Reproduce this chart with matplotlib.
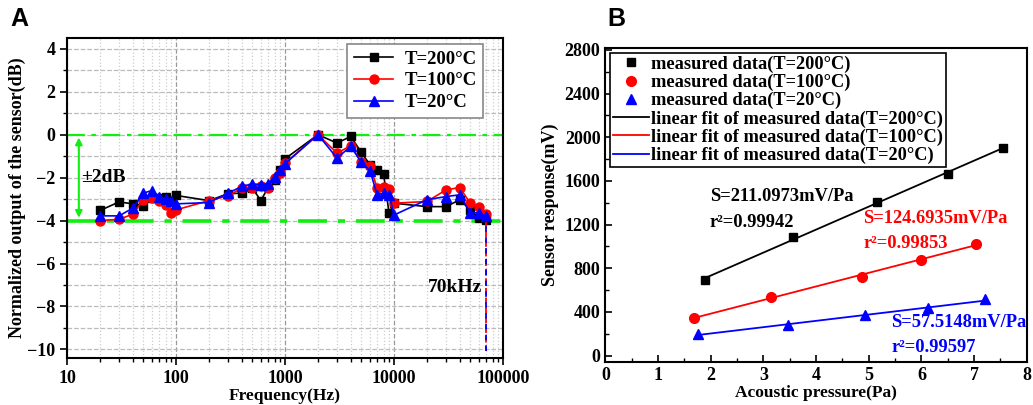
import numpy as np
import matplotlib.pyplot as plt
from matplotlib.ticker import MultipleLocator, NullFormatter

plt.rcParams['font.family'] = ['Liberation Serif', 'DejaVu Serif']
plt.rcParams['font.weight'] = 'bold'
plt.rcParams['axes.labelweight'] = 'bold'

# ---- panel A: frequency response ----
freq = [20, 30, 40, 50, 60, 70, 80, 90, 100, 200, 300, 400, 500, 600, 700, 800, 900,
        1000, 2000, 3000, 4000, 5000, 6000, 7000, 8000, 9000, 10000, 20000, 30000,
        40000, 50000, 60000, 70000]
out_200 = [-3.53, -3.13, -3.22, -3.3, -2.96, -2.96, -2.88, -3.07, -2.83, -3.07, -2.75,
           -2.72, -2.49, -3.07, -2.44, -2.1, -1.63, -1.12, 0.0, -0.39, -0.08, -0.82,
           -1.4, -1.63, -1.82, -3.66, -3.19, -3.35, -3.35, -3.03, -3.5, -3.9, -3.95]
out_100 = [-4.0, -3.94, -3.7, -3.03, -2.96, -3.11, -3.27, -3.66, -3.5, -3.07, -2.85,
           -2.49, -2.49, -2.41, -2.49, -2.02, -1.79, -1.32, 0.0, -0.86, -0.51, -1.25,
           -1.45, -2.49, -2.44, -2.54, -3.19, -3.11, -2.57, -2.46, -3.19, -3.35, -3.68]
out_20 = [-3.78, -3.78, -3.42, -2.72, -2.6, -2.88, -3.0, -3.07, -3.22, -3.16, -2.72,
          -2.41, -2.29, -2.33, -2.29, -1.95, -1.63, -1.35, 0.0, -1.09, -0.54, -1.29,
          -1.67, -2.8, -2.72, -2.8, -3.74, -3.03, -2.88, -2.8, -3.64, -3.64, -3.8]
band_top, band_bottom = 0, -4
cutoff_freq = 70000

# ---- panel B: sensitivity ----
p_200 = [1.90, 3.57, 5.15, 6.50, 7.55]
v_200 = [694, 1086, 1404, 1664, 1902]
p_100 = [1.675, 3.14, 4.88, 5.99, 7.03]
v_100 = [346, 535, 719, 878, 1024]
p_20 = [1.76, 3.46, 4.93, 6.13, 7.20]
v_20 = [199, 275, 367, 434, 514]

fig = plt.figure(figsize=(10.33, 4.05), dpi=100)
axA = fig.add_axes([0.065, 0.116, 0.422, 0.790])
axB = fig.add_axes([0.586, 0.106, 0.408, 0.775])

lw = 1.2
axA.plot(freq, out_200, 'k-', marker='s', ms=6, lw=lw, label='T=200°C', zorder=3)
axA.plot(freq, out_100, '-', color='red', marker='o', ms=6.5, lw=lw, label='T=100°C', zorder=4)
axA.plot(freq, out_20, '-', color='blue', marker='^', ms=6.5, lw=lw, label='T=20°C', zorder=5)

green = '#11ee11'
axA.axhline(band_top, color=green, ls=(0, (8, 3, 2, 3)), lw=1.6, zorder=2)
axA.axhline(band_bottom, color=green, ls=(0, (8, 3, 2, 3)), lw=2.6, zorder=2)
axA.annotate('', xy=(12.8, band_bottom), xytext=(12.8, band_top),
             arrowprops=dict(arrowstyle='<|-|>', color=green, lw=1.5, mutation_scale=10))
axA.text(13.3, -2.0, '±2dB', fontsize=14, fontweight='bold', va='center', ha='left')
axA.plot([cutoff_freq, cutoff_freq], [band_bottom, -10.05], color='red', ls='--', lw=1.3, zorder=3)
axA.plot([cutoff_freq, cutoff_freq], [band_bottom, -10.05], color='blue', ls=(3, (3, 3)), lw=1.3, zorder=3)
axA.text(64000, -7.1, '70kHz', fontsize=14, fontweight='bold', va='center', ha='right')

axA.set_xscale('log')
axA.set_xlim(10, 100000)
axA.set_ylim(-10.4, 4.5)
axA.set_xticks([10, 100, 1000, 10000, 100000])
axA.set_xticklabels(['10', '100', '1000', '10000', '100000'])
axA.xaxis.set_minor_formatter(NullFormatter())
axA.set_yticks(np.arange(-10, 5, 2))
axA.yaxis.set_minor_locator(MultipleLocator(1))
axA.grid(True, which='major', axis='x', color='#999999', ls='--', lw=0.9)
axA.grid(True, which='minor', axis='x', color='#cccccc', ls=':', lw=0.9)
axA.grid(True, which='both', axis='y', color='#bbbbbb', ls='--', lw=0.9)
axA.set_axisbelow(True)
axA.tick_params(which='both', direction='out', labelsize=13)
axA.tick_params(which='major', length=5, width=1.2)
axA.tick_params(which='minor', length=3, width=1)
axA.set_xlabel('Frequency(Hz)', fontsize=12.5, labelpad=1)
axA.set_ylabel('Normalized output of the sensor(dB)', fontsize=13, labelpad=1)
legA = axA.legend(loc='upper right', fontsize=13.5, fancybox=False, edgecolor='#888888',
                  handlelength=2.1, handletextpad=0.6, borderpad=0.35, labelspacing=0.25,
                  borderaxespad=0.0, bbox_to_anchor=(0.955, 0.982), framealpha=1)
legA.get_frame().set_linewidth(1.2)

# panel B
axB.plot(p_200, v_200, 's', color='black', ms=6, label='measured data(T=200°C)', zorder=4)
axB.plot(p_100, v_100, 'o', color='red', ms=7, label='measured data(T=100°C)', zorder=4)
axB.plot(p_20, v_20, '^', color='blue', ms=7, label='measured data(T=20°C)', zorder=4)
for px, vy, c, t in [(p_200, v_200, 'black', '200'), (p_100, v_100, 'red', '100'), (p_20, v_20, 'blue', '20')]:
    k, b = np.polyfit(px, vy, 1)
    xs = np.array([min(px), max(px)])
    axB.plot(xs, k * xs + b, '-', color=c, lw=1.3, label=f'linear fit of measured data(T={t}°C)', zorder=3)

fs_ann = 13.3
axB.text(1.98, 1453, 'S=211.0973mV/Pa', fontsize=fs_ann, color='black', va='center')
axB.text(1.98, 1214, 'r²=0.99942', fontsize=fs_ann, color='black', va='center')
axB.text(4.90, 1255, 'S=124.6935mV/Pa', fontsize=fs_ann, color='red', va='center')
axB.text(4.90, 1025, 'r²=0.99853', fontsize=fs_ann, color='red', va='center')
axB.text(5.43, 306, 'S=57.5148mV/Pa', fontsize=fs_ann, color='blue', va='center')
axB.text(5.43, 76, 'r²=0.99597', fontsize=fs_ann, color='blue', va='center')

axB.set_xlim(0, 8)
axB.set_ylim(-60, 2815)
axB.set_xticks(range(0, 9))
axB.xaxis.set_minor_locator(MultipleLocator(0.5))
axB.set_yticks(range(0, 2801, 400))
axB.yaxis.set_minor_locator(MultipleLocator(200))
axB.tick_params(which='both', direction='in', labelsize=13)
axB.tick_params(which='major', length=5, width=1.2)
axB.tick_params(which='minor', length=3, width=1)
axB.set_xlabel('Acoustic pressure(Pa)', fontsize=12.5, labelpad=1)
axB.set_ylabel('Sensor response(mV)', fontsize=13, labelpad=4)
legB = axB.legend(loc='upper left', fontsize=13.2, fancybox=False, edgecolor='black',
                  handlelength=2.0, handletextpad=0.1, borderpad=0.15, labelspacing=0.05,
                  borderaxespad=0.25, framealpha=1)
legB.get_frame().set_linewidth(1.2)

for ax in (axA, axB):
    for s in ax.spines.values():
        s.set_linewidth(1.5)

fig.text(0.010, 0.935, 'A', fontsize=18, fontweight='bold', family='Liberation Sans')
fig.text(0.588, 0.935, 'B', fontsize=18, fontweight='bold', family='Liberation Sans')

fig.savefig('out.png', dpi=100)
